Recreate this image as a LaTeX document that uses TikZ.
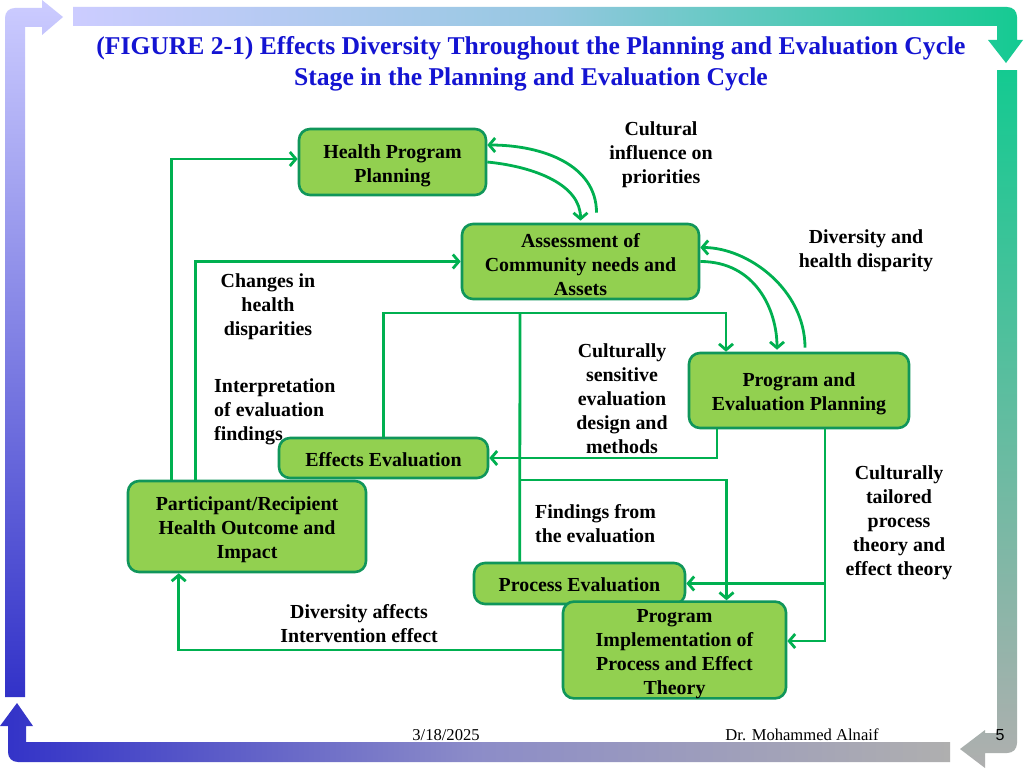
\documentclass[tikz,border=0pt]{standalone}
\usepackage{fontspec}
\setmainfont{Liberation Serif}
\newfontfamily\footsans{Liberation Sans}
\usetikzlibrary{arrows.meta,calc}
\definecolor{boxfill}{RGB}{146,208,80}
\definecolor{boxborder}{RGB}{16,150,90}
\definecolor{conncol}{RGB}{0,176,80}
\definecolor{titleblue}{RGB}{20,20,210}
\definecolor{framlav}{RGB}{204,204,255}
\definecolor{framteal}{RGB}{20,202,145}
\definecolor{frammid}{RGB}{150,200,225}
\definecolor{framgray}{RGB}{175,175,175}
\definecolor{framblue}{RGB}{50,50,200}
\definecolor{frampurp}{RGB}{140,140,200}
\newcommand{\mybfont}{\fontsize{19.9}{24}\selectfont\bfseries}
\newcommand{\topstrut}{\rule{0pt}{20.5pt}}
\begin{document}
\begin{tikzpicture}[x=1pt,y=-1pt,
  box/.style={draw=boxborder, fill=boxfill, line width=2.6pt, rounded corners=11pt,
    align=center, inner sep=0pt, font=\mybfont},
  lbl/.style={align=center, inner sep=0pt, font=\mybfont},
  conn/.style={draw=conncol, line width=2.8pt, line join=miter},
  arr/.style={conn, -{Straight Barb[length=6pt,width=14pt]}},
  foot/.style={inner sep=0pt, font=\fontsize{16.6}{20}\selectfont}]
\useasboundingbox[fill=white] (0,0) rectangle (1024,768);

% ---- frame arrows ----
\shade[left color=framlav, right color=framteal, middle color=frammid]
  (73,7) -- (1007,7) .. controls (1013,7) and (1017,11) .. (1017,17) -- (1017,40)
  -- (1023,40) -- (1006,63) -- (988,40) -- (997,40) -- (997,26) -- (73,26) -- cycle;
\shade[top color=framteal, bottom color=framgray]
  (997,70) -- (1017,70) -- (1017,743) .. controls (1017,749) and (1013,753) .. (1007,753)
  -- (985,753) -- (985,768) -- (960,749) -- (985,730) -- (985,733) -- (997,733) -- cycle;
\shade[left color=framblue, right color=framgray, middle color=frampurp]
  (950,742) -- (950,762) -- (18,762) .. controls (12,762) and (8,758) .. (8,752)
  -- (8,726) -- (0,726) -- (17,703) -- (33,726) -- (26,726) -- (26,742) -- cycle;
\shade[top color=framlav, bottom color=framblue]
  (5,697) -- (5,18) .. controls (5,12) and (9,8) .. (15,8) -- (42,8) -- (42,0)
  -- (63,17) -- (42,35) -- (42,27) -- (25,27) -- (25,697) -- cycle;

% ---- title ----
\node[inner sep=0pt, anchor=base, text=titleblue, font=\fontsize{25.6}{30}\selectfont\bfseries]
  (t1) at (531,55) {(FIGURE 2-1) Effects Diversity Throughout the Planning and Evaluation Cycle};
\node[inner sep=0pt, anchor=base, text=titleblue, font=\fontsize{25.6}{30}\selectfont\bfseries]
  (t2) at (531,85) {Stage in the Planning and Evaluation Cycle};

% ---- nodes ----
\node[box, minimum width=187pt, minimum height=66pt] (hpp) at (392.5,162) {\topstrut Health Program\\Planning};
\node[box, minimum width=237pt, minimum height=75pt] (ass) at (580.5,261.5) {\topstrut Assessment of\\Community needs and\\Assets};
\node[box, minimum width=220pt, minimum height=75pt] (pep) at (799,390.5) {\topstrut Program and\\Evaluation Planning};
\node[box, minimum width=238pt, minimum height=91pt] (prh) at (247,526.5) {\topstrut Participant/Recipient\\Health Outcome and\\Impact};
\node[box, minimum width=209pt, minimum height=40pt] (ee) at (383.5,458) {\rule{0pt}{17.5pt}Effects Evaluation};
\node[box, minimum width=211pt, minimum height=41pt] (pe) at (579.5,583.5) {\rule{0pt}{16pt}Process Evaluation};
\node[box, minimum width=223pt, minimum height=92pt] (pi) at (674.5,650) {\topstrut Program\\Implementation of\\Process and Effect\\Theory};

% ---- labels ----
\node[lbl] (l1) at (661,155) {Cultural\\influence on\\priorities};
\node[lbl] (l2) at (866,251) {Diversity and\\health disparity};
\node[lbl] (l3) at (268,307) {Changes in\\health\\disparities};
\node[lbl, align=left, anchor=west] (l4) at (214,412) {Interpretation\\of evaluation\\findings};
\node[lbl] (l5) at (622,399) {Culturally\\sensitive\\evaluation\\design and\\methods};
\node[lbl] (l6) at (899,523) {Culturally\\tailored\\process\\theory and\\effect theory};
\node[lbl, align=left, anchor=west] (l7) at (535,524) {Findings from\\the evaluation};
\node[lbl] (l8) at (359,624) {Diversity affects\\Intervention effect};

% ---- footer ----
\node[foot, anchor=base] (f1) at (446,740) {3/18/2025};
\node[foot, anchor=base] (f2) at (802,740) {Dr. Mohammed Alnaif};
\node[foot, anchor=base, font=\footsans\fontsize{16}{20}\selectfont] (f3) at (1000,740) {5};

% ---- connectors ----
\coordinate (jT) at (520,313);
\coordinate (jM) at (520,480);
\coordinate (pepR) at ([xshift=26pt]pep.south);

\draw[arr] ([xshift=45pt]prh.north west) |- ([yshift=3pt]hpp.west);
\draw[arr] ([xshift=69pt]prh.north west) |- (ass.west);
\draw[arr] (ee.north) |- (jT) -| ([xshift=-73pt]pep.north);
\draw[conn] ([xshift=47pt]pe.north west) -- (jT);
\draw[arr] (jM) -| ([xshift=52pt]pi.north);
\draw[arr] ([xshift=-82pt]pep.south) |- (ee.east);
\draw[arr] (pepR) |- ([yshift=9pt]pi.east);
\draw[arr] (pepR |- pe.east) -- (pe.east);
\draw[arr] (pi.west) -| ([xshift=52pt]prh.south west);

% curved
\draw[arr] (hpp.east) .. controls +(50,5) and +(0,-35) .. ([yshift=2pt]ass.north);
\draw[arr] ([xshift=16pt,yshift=10pt]ass.north) .. controls +(0,-48) and +(55,0) .. ([yshift=17pt]hpp.east);
\draw[arr] (ass.east) .. controls +(55,0) and +(0,-40) .. ([xshift=-22pt,yshift=2pt]pep.north);
\draw[arr] ([xshift=6pt,yshift=4pt]pep.north) .. controls +(0,-58) and +(48,0) .. ([yshift=14pt]ass.east);
\end{tikzpicture}
\end{document}
